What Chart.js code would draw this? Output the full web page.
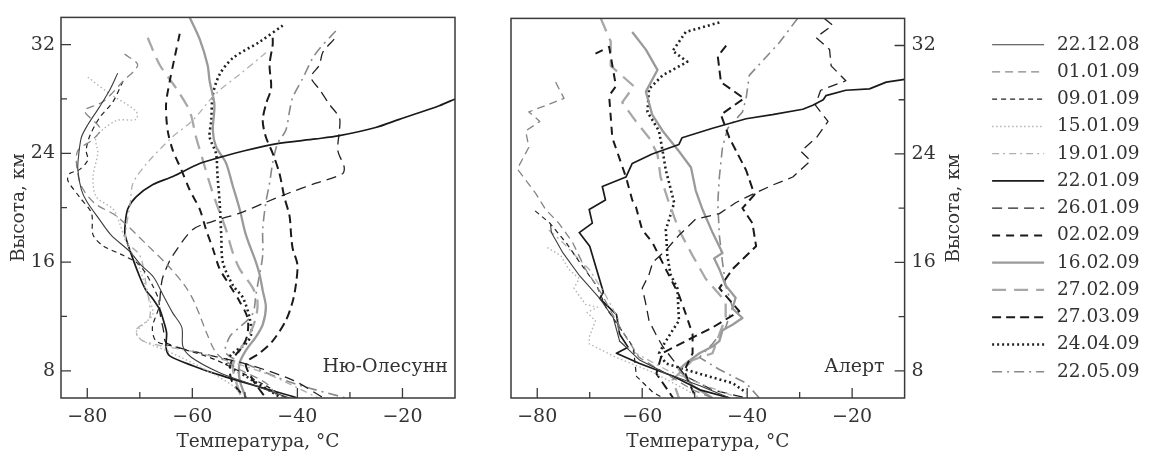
<!DOCTYPE html>
<html><head><meta charset="utf-8">
<script src="https://cdn.jsdelivr.net/npm/chart.js@4.4.1/dist/chart.umd.min.js"></script>
<style>
html,body{margin:0;padding:0;background:#fff;}
#wrap{position:relative;width:1150px;height:456px;overflow:hidden;background:#fff;}
.box{position:absolute;top:0;height:456px;}
</style></head><body>
<div id="wrap">
<div class="box" style="left:0;width:480px"><canvas id="cL" width="480" height="456"></canvas></div>
<div class="box" style="left:480px;width:720px"><canvas id="cR" width="720" height="456"></canvas></div>
</div>
<script>
// ---- categories / tick labels ----
const dates = ['22.12.08','01.01.09','09.01.09','15.01.09','19.01.09','22.01.09','26.01.09','02.02.09','16.02.09','27.02.09','27.03.09','24.04.09','22.05.09'];
const xTicks = [-80,-70,-60,-50,-40,-30,-20];
const xTickLabels = ['\u221280','','\u221260','','\u221240','','\u221220'];
const yTicks = [8,12,16,20,24,28,32];
const yTickLabels = ['8','','16','','24','','32'];

// ---- Ny-Ålesund profiles: [temperature °C, height km] ----
const ny_221208 = [[-74.2,29.9],[-75.8,28.6],[-77.7,27.4],[-79.9,26.1],[-81.1,25.2],[-81.6,24.0],[-81.8,22.8],[-81.1,21.3],[-80.0,20.4],[-77.8,19.2],[-75.5,18.0],[-72.0,16.8],[-69.8,15.8],[-67.4,14.9],[-65.6,13.6],[-63.8,12.3],[-62.0,11.2],[-61.8,9.8],[-60.2,9.0],[-55.0,7.9],[-48.0,6.9],[-41.5,6.0]];
const ny_010109 = [[-72.9,31.3],[-70.4,30.5],[-73.2,29.3],[-77.0,27.8],[-80.5,27.2],[-80.2,26.9],[-77.5,25.8],[-79.0,25.0],[-81.8,24.2],[-82.0,23.0],[-81.0,21.5],[-78.5,20.3],[-74.5,19.4],[-68.7,17.3],[-64.3,15.6],[-61.5,14.3],[-59.8,13.2],[-58.5,12.0],[-57.3,10.8],[-55.4,9.3],[-52.0,8.3],[-46.0,7.1],[-43.5,6.0]];
const ny_090109 = [[-73.2,29.3],[-75.1,27.8],[-77.7,26.6],[-79.6,25.2],[-80.2,24.2],[-79.9,23.5],[-81.5,22.8],[-83.4,22.5],[-83.7,22.0],[-81.5,20.8],[-79.2,19.6],[-78.9,18.0],[-77.0,17.2],[-73.2,16.5],[-70.1,15.8],[-67.6,14.3],[-66.3,12.9],[-67.6,11.2],[-66.9,10.2],[-63.1,9.75],[-55.5,8.8],[-46.0,6.9],[-42.2,6.0]];
const ny_150109 = [[-79.9,29.6],[-75.8,28.4],[-70.7,27.1],[-70.7,26.5],[-74.5,26.4],[-78.3,25.2],[-78.0,24.0],[-78.9,22.3],[-78.3,20.8],[-75.1,19.9],[-73.9,18.9],[-72.6,17.5],[-70.0,15.5],[-68.8,13.9],[-67.5,12.2],[-69.4,11.4],[-70.7,10.8],[-69.4,10.2],[-65.0,9.5],[-58.6,8.3],[-52.3,6.9],[-50.4,6.0]];
const ny_190109 = [[-46.0,31.4],[-51.0,29.8],[-55.5,28.4],[-60.0,26.4],[-63.8,25.2],[-68.8,23.2],[-71.3,21.8],[-71.8,20.4],[-72.6,18.4],[-72.6,17.5],[-70.0,16.5],[-68.8,14.3],[-68.1,11.9],[-70.7,11.0],[-69.4,10.2],[-58.6,9.3],[-46.0,7.8],[-36.0,6.0]];
const ny_220109 = [[-10.0,28.0],[-13.0,27.5],[-20.6,26.5],[-25.1,25.9],[-32.0,25.3],[-36.5,25.06],[-44.1,24.7],[-51.0,24.1],[-54.8,23.7],[-58.6,23.25],[-63.7,22.3],[-67.5,21.7],[-70.7,20.8],[-72.3,19.9],[-72.8,18.7],[-72.8,18.0],[-71.6,16.55],[-70.0,14.9],[-68.8,13.9],[-67.7,13.4],[-66.2,12.5],[-65.5,11.7],[-64.9,10.8],[-65.0,9.7],[-64.3,9.1],[-59.8,8.36],[-55.4,7.76],[-40.0,6.0]];
const ny_260109 = [[-33.0,32.4],[-35.2,31.4],[-35.8,30.5],[-37.4,29.6],[-35.8,28.7],[-33.9,27.6],[-32.0,26.6],[-32.0,25.7],[-32.3,24.2],[-31.1,23.0],[-31.4,22.5],[-36.5,21.8],[-41.5,21.1],[-46.0,20.4],[-51.0,19.6],[-56.1,19.0],[-59.9,18.4],[-63.7,16.5],[-64.9,15.6],[-65.8,14.6],[-66.2,12.5],[-65.5,11.0],[-64.9,10.05],[-57.3,9.2],[-49.7,8.5],[-40.8,7.3],[-35.0,6.0]];
const ny_020209 = [[-62.4,32.8],[-63.4,31.0],[-64.3,29.3],[-65.0,27.6],[-64.7,25.7],[-63.7,24.2],[-62.1,22.8],[-60.5,21.3],[-58.6,19.9],[-57.4,18.4],[-56.1,17.0],[-54.8,15.5],[-52.9,14.3],[-51.0,13.1],[-49.5,11.9],[-49.5,10.7],[-50.4,9.8],[-52.3,8.9],[-52.9,8.1],[-52.3,7.1],[-49.8,6.0]];
const ny_160209 = [[-60.5,34.0],[-58.6,32.4],[-57.1,30.5],[-56.7,29.3],[-55.8,27.6],[-56.1,25.7],[-55.5,24.5],[-53.6,23.3],[-52.3,21.6],[-51.0,19.9],[-49.8,18.0],[-47.9,16.0],[-47.2,15.1],[-46.6,13.9],[-46.0,12.7],[-46.6,11.4],[-47.9,10.5],[-49.8,9.5],[-51.0,8.55],[-51.0,7.35],[-49.8,6.0]];
const ny_270209 = [[-68.5,32.5],[-66.2,30.5],[-63.1,28.8],[-60.5,27.1],[-59.3,25.2],[-58.0,23.5],[-56.7,21.8],[-55.5,20.4],[-53.6,18.4],[-52.3,16.7],[-51.0,15.5],[-48.5,14.1],[-47.6,13.1],[-47.9,11.9],[-49.1,10.7],[-51.0,9.5],[-52.3,8.3],[-51.0,6.4],[-50.5,6.0]];
const ny_270309 = [[-44.7,32.5],[-44.7,32.0],[-45.3,30.5],[-45.0,28.8],[-46.0,27.6],[-46.6,26.4],[-46.0,25.2],[-44.7,24.0],[-43.4,22.5],[-42.5,20.8],[-41.5,19.4],[-41.2,18.0],[-40.9,17.0],[-40.0,15.8],[-40.3,14.3],[-40.9,13.1],[-42.2,11.7],[-44.7,10.2],[-47.2,9.3],[-49.8,8.55],[-48.5,7.35],[-46.0,6.0]];
const ny_240409 = [[-42.8,33.4],[-47.2,32.2],[-52.3,31.0],[-54.8,29.8],[-56.1,28.3],[-56.4,26.4],[-56.7,25.2],[-55.5,24.0],[-55.2,22.3],[-54.8,20.4],[-54.5,18.0],[-54.2,16.0],[-52.3,14.3],[-50.4,13.4],[-49.1,11.9],[-48.8,10.7],[-49.8,10.0],[-52.3,9.3],[-53.6,8.55],[-49.8,7.6],[-44.7,6.4],[-43.0,6.0]];
const ny_220509 = [[-32.7,33.0],[-35.8,31.7],[-37.1,31.0],[-39.0,29.5],[-40.9,28.1],[-41.5,27.1],[-42.2,25.7],[-43.8,24.7],[-44.7,23.3],[-45.3,21.8],[-46.0,20.4],[-46.6,18.4],[-46.6,16.5],[-47.2,15.1],[-47.9,13.6],[-48.5,12.2],[-51.0,11.2],[-52.9,10.5],[-53.6,9.3],[-48.5,8.3],[-40.9,7.1],[-30.8,6.0]];

// ---- Alert profiles: [temperature °C, height km] ----
const al_221208 = [[-77.5,18.9],[-77.3,18.2],[-75.1,16.7],[-71.9,15.0],[-68.1,13.35],[-65.5,11.9],[-64.3,10.2],[-60.5,8.8],[-55.4,7.8],[-49.0,6.9],[-43.3,6.0]];
const al_010109 = [[-76.5,29.3],[-74.9,28.1],[-81.6,27.1],[-79.5,26.4],[-82.2,25.7],[-81.6,24.5],[-83.8,22.9],[-80.3,21.1],[-78.4,19.9],[-75.9,18.9],[-73.3,17.5],[-70.8,15.5],[-67.6,13.6],[-65.7,12.2],[-63.1,10.5],[-60.6,9.0],[-55.5,7.8],[-50.4,6.6],[-46.6,6.0]];
const al_090109 = [[-80.4,19.8],[-77.6,18.9],[-74.4,17.4],[-71.9,16.0],[-68.7,14.3],[-66.8,12.6],[-64.3,11.2],[-61.7,9.75],[-61.1,7.6],[-57.9,6.4],[-56.0,6.0]];
const al_150109 = [[-78.1,17.1],[-75.5,16.5],[-74.0,15.5],[-72.0,14.8],[-73.0,14.1],[-70.8,12.9],[-68.5,12.7],[-70.5,12.3],[-68.9,11.7],[-70.1,10.5],[-70.1,10.0],[-65.0,9.0],[-58.0,7.9],[-51.6,6.6],[-49.0,6.0]];
const al_190109 = [[-77.8,18.4],[-75.2,17.5],[-72.5,16.4],[-70.1,15.5],[-67.0,13.6],[-64.4,11.7],[-64.4,10.2],[-61.2,9.3],[-55.5,8.1],[-47.9,6.9],[-41.5,6.0]];
const al_220109 = [[-10.0,29.5],[-13.5,29.3],[-16.7,28.8],[-21.2,28.7],[-25.0,28.3],[-25.5,28.0],[-27.5,27.6],[-29.4,27.3],[-35.2,26.9],[-40.2,26.6],[-46.6,25.9],[-52.4,25.2],[-53.0,24.7],[-58.1,24.0],[-61.9,23.3],[-63.1,22.3],[-67.6,21.6],[-67.0,20.6],[-70.1,19.9],[-69.5,18.9],[-72.0,18.2],[-70.0,17.2],[-68.7,15.5],[-67.4,13.8],[-68.1,13.35],[-64.9,12.15],[-64.3,10.7],[-62.7,9.75],[-64.9,9.3],[-60.5,8.55],[-54.1,7.6],[-49.0,6.6],[-43.3,6.0]];
const al_260109 = [[-25.3,34.0],[-23.7,33.5],[-26.9,32.6],[-24.3,31.7],[-24.0,30.5],[-21.2,29.4],[-26.0,28.7],[-27.0,27.6],[-24.6,26.4],[-26.8,25.2],[-29.8,24.2],[-27.9,23.5],[-31.3,22.3],[-35.2,21.7],[-40.2,20.8],[-42.2,20.4],[-45.3,19.6],[-49.8,19.2],[-53.0,18.0],[-55.5,16.9],[-58.0,16.0],[-58.7,15.1],[-60.0,14.1],[-59.4,13.1],[-58.7,11.7],[-57.4,10.7],[-56.1,9.8],[-51.7,7.6],[-46.6,6.6],[-40.2,6.0]];
const al_020209 = [[-68.9,31.4],[-66.3,31.9],[-65.0,29.0],[-66.3,28.3],[-65.7,25.2],[-63.1,22.3],[-61.9,20.6],[-61.2,20.1],[-60.0,18.4],[-58.1,17.5],[-55.5,15.5],[-53.0,13.6],[-51.7,12.2],[-50.4,10.7],[-50.4,9.3],[-52.0,8.0],[-49.8,6.0]];
const al_160209 = [[-61.9,33.0],[-59.3,31.7],[-57.1,30.2],[-59.3,28.6],[-58.1,26.9],[-56.1,25.7],[-53.0,24.2],[-50.7,23.0],[-49.8,21.3],[-48.5,19.9],[-46.6,18.2],[-44.7,16.7],[-46.3,16.3],[-45.3,15.5],[-44.1,14.3],[-42.2,13.4],[-42.8,12.6],[-40.9,11.9],[-42.8,11.4],[-44.7,11.0],[-45.3,10.2],[-46.6,9.8],[-49.1,9.3],[-51.7,8.55],[-53.0,8.1],[-50.4,6.9],[-46.6,6.0]];
const al_270209 = [[-67.9,34.0],[-66.0,32.3],[-66.0,30.5],[-61.6,29.0],[-63.8,27.8],[-61.2,26.4],[-58.7,25.2],[-57.1,24.0],[-56.5,22.3],[-54.9,20.4],[-53.0,18.4],[-50.4,16.5],[-47.9,14.8],[-44.1,13.1],[-44.1,11.9],[-45.3,10.7],[-46.6,9.3],[-50.4,8.8],[-54.2,7.35],[-53.0,6.0]];
const al_270309 = [[-44.0,32.0],[-45.6,31.2],[-45.0,29.3],[-40.6,28.1],[-45.0,26.9],[-43.4,25.2],[-40.2,22.8],[-38.6,21.0],[-40.9,20.0],[-39.0,18.9],[-38.3,17.2],[-42.8,15.5],[-45.3,14.1],[-41.5,12.4],[-46.6,11.2],[-51.7,10.2],[-56.2,9.3],[-57.3,7.8],[-54.1,6.0]];
const al_240409 = [[-45.3,33.7],[-51.7,33.0],[-54.2,31.6],[-51.4,30.8],[-56.1,29.8],[-58.7,28.8],[-59.0,27.1],[-56.8,25.7],[-56.1,24.2],[-55.5,22.8],[-53.9,20.4],[-55.5,18.4],[-55.2,16.5],[-54.6,15.1],[-53.3,14.1],[-53.0,11.7],[-54.2,11.0],[-55.8,10.0],[-56.8,9.3],[-55.5,8.55],[-49.2,7.8],[-42.8,7.1],[-40.2,6.4]];
const al_220509 = [[-30.4,34.0],[-33.9,32.2],[-39.6,29.8],[-40.2,28.1],[-40.9,27.1],[-43.7,25.9],[-44.7,24.5],[-45.3,22.3],[-45.6,20.4],[-45.3,18.0],[-44.7,16.0],[-44.1,14.3],[-42.8,12.7],[-44.1,11.2],[-46.6,10.0],[-49.1,9.0],[-45.3,8.1],[-40.2,7.1],[-37.7,6.0]];

const nySeries = [ny_221208, ny_010109, ny_090109, ny_150109, ny_190109, ny_220109, ny_260109, ny_020209, ny_160209, ny_270209, ny_270309, ny_240409, ny_220509];
const alSeries = [al_221208, al_010109, al_090109, al_150109, al_190109, al_220109, al_260109, al_020209, al_160209, al_270209, al_270309, al_240409, al_220509];

// ---- styles (one per date) ----
const lineStyles = [
  {c:'#3c3c3c', w:1.1, d:[]},
  {c:'#858585', w:1.3, d:[8,5]},
  {c:'#222222', w:1.2, d:[5,4]},
  {c:'#b4b4b4', w:1.4, d:[1.5,2.5]},
  {c:'#b0b0b0', w:1.3, d:[7,4,2,4]},
  {c:'#1a1a1a', w:1.7, d:[]},
  {c:'#222222', w:1.3, d:[10,6]},
  {c:'#1a1a1a', w:2.0, d:[8,6]},
  {c:'#9a9a9a', w:2.3, d:[]},
  {c:'#a8a8a8', w:2.3, d:[14,8]},
  {c:'#1a1a1a', w:2.0, d:[9,5]},
  {c:'#222222', w:2.6, d:[2,3]},
  {c:'#888888', w:1.6, d:[10,5,2,5]}
];

const FAMILY = "'DejaVu Serif', serif";
Chart.defaults.font.family = FAMILY;
Chart.defaults.color = '#333';
Chart.defaults.animation = false;

function makeDatasets(series, tension) {
  return series.map((pts, i) => ({
    label: dates[i],
    data: pts.map(p => ({x: p[0], y: p[1]})),
    showLine: true,
    pointRadius: 0,
    pointHoverRadius: 0,
    borderColor: lineStyles[i].c,
    backgroundColor: lineStyles[i].c,
    borderWidth: lineStyles[i].w,
    borderDash: lineStyles[i].d,
    borderCapStyle: 'butt',
    borderJoinStyle: 'round',
    tension: tension,
    fill: false
  }));
}

const framePlugin = {
  id: 'frame',
  afterDatasetsDraw(chart) {
    const {ctx, chartArea: a, scales} = chart;
    ctx.save();
    ctx.setLineDash([]);
    ctx.strokeStyle = '#3a3a3a';
    ctx.lineWidth = 1.5;
    ctx.strokeRect(a.left, a.top, a.right - a.left, a.bottom - a.top);
    ctx.lineWidth = 1.3;
    ctx.beginPath();
    scales.x.ticks.forEach((t, i) => {
      const px = scales.x.getPixelForValue(t.value);
      const len = xTickLabels[i] ? 10 : 6;
      ctx.moveTo(px, a.bottom); ctx.lineTo(px, a.bottom - len);
    });
    const side = scales.y.position;
    scales.y.ticks.forEach((t, i) => {
      const py = scales.y.getPixelForValue(t.value);
      const len = yTickLabels[i] ? 10 : 6;
      if (side === 'left') { ctx.moveTo(a.left, py); ctx.lineTo(a.left + len, py); }
      else { ctx.moveTo(a.right, py); ctx.lineTo(a.right - len, py); }
    });
    ctx.stroke();
    ctx.restore();
  }
};

const textPlugin = {
  id: 'panelText',
  afterDraw(chart, args, opts) {
    const {ctx, chartArea: a} = chart;
    ctx.save();
    ctx.fillStyle = '#333';
    ctx.font = "19px " + FAMILY;
    ctx.textAlign = 'right';
    ctx.textBaseline = 'alphabetic';
    ctx.fillText(opts.station, a.right - opts.inset, a.bottom - 26);
    if (opts.rightTitle) {
      ctx.font = "18.5px " + FAMILY;
      ctx.translate(a.right + 50, (a.top + a.bottom) / 2);
      ctx.rotate(-Math.PI / 2);
      ctx.textAlign = 'center';
      ctx.textBaseline = 'middle';
      ctx.fillText(opts.rightTitle, 0, 0);
    }
    ctx.restore();
  }
};

function xScale() {
  return {
    type: 'linear', position: 'bottom', min: -85, max: -10,
    afterBuildTicks: s => { s.ticks = xTicks.map(v => ({value: v})); },
    afterFit: s => { s.height = 58; },
    grid: {display: false, drawTicks: false},
    border: {display: false},
    ticks: {autoSkip: false, maxRotation: 0, padding: 8, font: {size: 19}, color: '#333',
            callback: (v, i) => xTickLabels[i]},
    title: {display: true, text: 'Температура, °С', font: {size: 18.5}, color: '#333', padding: {top: 0, bottom: 3}}
  };
}
function yScale(pos, width, pad, showTitle) {
  return {
    type: 'linear', position: pos, min: 6, max: 34,
    afterBuildTicks: s => { s.ticks = yTicks.map(v => ({value: v})); },
    afterFit: s => { s.width = width; },
    grid: {display: false, drawTicks: false},
    border: {display: false},
    ticks: {autoSkip: false, padding: pad, font: {size: 19}, color: '#333',
            callback: (v, i) => yTickLabels[i]},
    title: {display: showTitle, text: 'Высота, км', font: {size: 18.5}, color: '#333', padding: {top: 8, bottom: 0}}
  };
}

new Chart(document.getElementById('cL'), {
  type: 'scatter',
  data: {datasets: makeDatasets(nySeries, 0.3)},
  options: {
    responsive: false,
    layout: {padding: {top: 12, left: 0, right: 25, bottom: 0}},
    scales: {x: xScale(), y: yScale('left', 61, 6, true)},
    plugins: {
      legend: {display: false},
      tooltip: {enabled: false},
      panelText: {station: 'Ню-Олесунн', inset: 7, rightTitle: ''}
    }
  },
  plugins: [framePlugin, textPlugin]
});

// legend geometry: compute its natural width so the legend starts where intended
const LEG_FONT = 18.5, LEG_PAD = 8.75, LEG_BOX = 52, LEG_SP = '\u2009';
const mctx = document.createElement('canvas').getContext('2d');
mctx.font = 'normal ' + LEG_FONT + 'px ' + FAMILY;
const legTextW = Math.max(...dates.map(d => mctx.measureText(LEG_SP + d).width));
const legW = LEG_PAD + LEG_BOX + LEG_FONT / 2 + legTextW;
const R_CANVAS_W = 720, LEG_LEFT = 503.75;
const rightPad = R_CANVAS_W - LEG_LEFT - legW - 1;

new Chart(document.getElementById('cR'), {
  type: 'scatter',
  data: {datasets: makeDatasets(alSeries, 0)},
  options: {
    responsive: false,
    layout: {padding: {top: 12, left: 31, right: rightPad, bottom: 0}},
    scales: {x: xScale(), y: yScale('right', 78.75, 7, false)},
    plugins: {
      legend: {
        display: true, position: 'right', align: 'center', fullSize: false,
        labels: {
          usePointStyle: true, pointStyle: 'line', pointStyleWidth: LEG_BOX,
          padding: LEG_PAD, color: '#333', font: {size: LEG_FONT},
          generateLabels(chart) {
            const items = Chart.defaults.plugins.legend.labels.generateLabels(chart);
            items.forEach(it => {
              const ds = chart.data.datasets[it.datasetIndex];
              it.text = LEG_SP + ds.label;
              it.lineDash = ds.borderDash;
              it.lineWidth = ds.borderWidth;
              it.strokeStyle = ds.borderColor;
              it.fillStyle = ds.borderColor;
              it.pointStyle = 'line';
            });
            return items;
          }
        }
      },
      tooltip: {enabled: false},
      panelText: {station: 'Алерт', inset: 20, rightTitle: 'Высота, км'}
    }
  },
  plugins: [framePlugin, textPlugin]
});
</script>
</body></html>
